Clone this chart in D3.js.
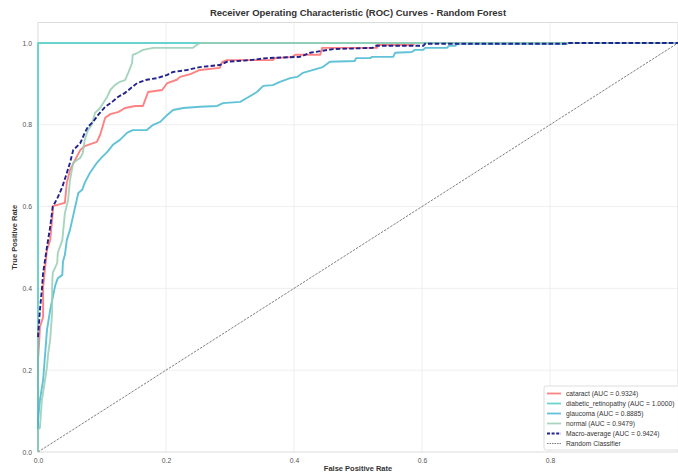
<!DOCTYPE html>
<html>
<head>
<meta charset="utf-8">
<script src="https://cdn.jsdelivr.net/npm/d3@7"></script>
<style>
  html, body { margin: 0; padding: 0; background: #fff; }
  svg { display: block; font-family: "Liberation Sans", Arial, sans-serif; }
</style>
</head>
<body>
<svg id="chart" width="678" height="472"></svg>
<script>
// ROC curve points (false positive rate, true positive rate) per class
const cataractFpr = [0, 0, 0.002, 0.003, 0.008, 0.008, 0.014, 0.019, 0.023, 0.023, 0.042, 0.045, 0.050, 0.058, 0.066, 0.073, 0.092, 0.097, 0.105, 0.113, 0.125, 0.136, 0.152, 0.164, 0.172, 0.194, 0.202, 0.217, 0.222, 0.238, 0.253, 0.284, 0.288, 0.295, 0.367, 0.370, 0.398, 0.402, 0.441, 0.444, 0.530, 0.530, 0.586, 0.589, 1];
const cataractTpr = [0, 0.225, 0.274, 0.306, 0.330, 0.403, 0.494, 0.518, 0.584, 0.601, 0.609, 0.658, 0.689, 0.714, 0.738, 0.748, 0.758, 0.775, 0.817, 0.826, 0.831, 0.841, 0.846, 0.846, 0.880, 0.885, 0.902, 0.910, 0.917, 0.924, 0.934, 0.939, 0.954, 0.958, 0.958, 0.963, 0.966, 0.971, 0.971, 0.988, 0.988, 0.995, 0.995, 1, 1];

const diabeticFpr = [0, 0, 1];
const diabeticTpr = [0, 1, 1];

const glaucomaFpr = [0, 0, 0.003, 0.008, 0.011, 0.014, 0.019, 0.027, 0.031, 0.038, 0.039, 0.042, 0.045, 0.050, 0.058, 0.063, 0.069, 0.073, 0.081, 0.092, 0.100, 0.108, 0.117, 0.128, 0.139, 0.148, 0.170, 0.180, 0.191, 0.202, 0.211, 0.227, 0.253, 0.280, 0.289, 0.316, 0.327, 0.342, 0.352, 0.367, 0.378, 0.394, 0.405, 0.414, 0.430, 0.445, 0.456, 0.495, 0.497, 0.519, 0.522, 0.555, 0.558, 0.584, 0.589, 0.602, 0.605, 0.639, 0.642, 0.652, 0.655, 0.827, 0.828, 1];
const glaucomaTpr = [0, 0.078, 0.127, 0.176, 0.237, 0.298, 0.347, 0.408, 0.425, 0.433, 0.465, 0.482, 0.518, 0.543, 0.599, 0.633, 0.641, 0.658, 0.682, 0.707, 0.721, 0.733, 0.751, 0.763, 0.780, 0.787, 0.787, 0.800, 0.807, 0.824, 0.836, 0.841, 0.844, 0.846, 0.853, 0.856, 0.866, 0.880, 0.895, 0.897, 0.905, 0.914, 0.917, 0.927, 0.934, 0.941, 0.954, 0.956, 0.963, 0.963, 0.966, 0.966, 0.976, 0.978, 0.983, 0.983, 0.988, 0.988, 0.993, 0.993, 0.998, 0.998, 1, 1];

const normalFpr = [0, 0, 0.003, 0.006, 0.011, 0.014, 0.016, 0.019, 0.022, 0.022, 0.023, 0.030, 0.031, 0.038, 0.042, 0.047, 0.050, 0.055, 0.066, 0.070, 0.073, 0.078, 0.084, 0.089, 0.097, 0.102, 0.108, 0.113, 0.120, 0.128, 0.136, 0.141, 0.147, 0.148, 0.156, 0.164, 0.180, 0.242, 0.248, 0.253, 1];
const normalTpr = [0, 0.054, 0.059, 0.127, 0.176, 0.208, 0.242, 0.274, 0.340, 0.403, 0.438, 0.462, 0.487, 0.518, 0.584, 0.616, 0.665, 0.707, 0.719, 0.731, 0.763, 0.787, 0.800, 0.829, 0.841, 0.853, 0.868, 0.885, 0.897, 0.905, 0.909, 0.927, 0.951, 0.971, 0.976, 0.983, 0.988, 0.988, 0.995, 1, 1];

const macroFpr = [0, 0.003, 0.006, 0.008, 0.011, 0.014, 0.019, 0.023, 0.031, 0.038, 0.045, 0.050, 0.055, 0.066, 0.073, 0.078, 0.086, 0.094, 0.105, 0.116, 0.125, 0.136, 0.147, 0.155, 0.170, 0.186, 0.202, 0.211, 0.233, 0.253, 0.284, 0.295, 0.331, 0.358, 0.409, 0.425, 0.441, 0.461, 0.523, 0.527, 0.602, 0.605, 0.827, 0.828, 1];
const macroTpr = [0.281, 0.347, 0.396, 0.438, 0.469, 0.501, 0.550, 0.599, 0.623, 0.648, 0.682, 0.707, 0.738, 0.755, 0.780, 0.795, 0.807, 0.824, 0.844, 0.856, 0.868, 0.878, 0.892, 0.902, 0.910, 0.914, 0.922, 0.929, 0.934, 0.941, 0.946, 0.954, 0.958, 0.963, 0.966, 0.976, 0.980, 0.985, 0.988, 0.993, 0.993, 0.998, 0.998, 1, 1];

const classNames = ["cataract", "diabetic_retinopathy", "glaucoma", "normal"];
const classAuc = ["0.9324", "1.0000", "0.8885", "0.9479"];
const macroAuc = "0.9424";
const classColors = ["#FF6B6B", "#4ECDC4", "#45B7D1", "#96CEB4"];

const tickValues = [0, 0.2, 0.4, 0.6, 0.8, 1.0];

const svg = d3.select("#chart");
const W = 678, H = 472;
const margin = { left: 38, right: 0, top: 22.5, bottom: 20 };
const plotW = W - margin.left - margin.right;
const plotH = H - margin.top - margin.bottom;

const x = d3.scaleLinear().domain([0, 1]).range([margin.left, margin.left + plotW]);
const y = d3.scaleLinear().domain([0, 1.05]).range([margin.top + plotH, margin.top]);

// grid
const grid = svg.append("g");
grid.selectAll(".gx").data(tickValues.slice(1, 5)).join("line")
  .attr("x1", d => x(d)).attr("x2", d => x(d))
  .attr("y1", y(0)).attr("y2", y(1.05))
  .attr("stroke", "#ebebeb").attr("stroke-width", 0.8);
grid.selectAll(".gy").data(tickValues.slice(1)).join("line")
  .attr("x1", x(0)).attr("x2", x(1))
  .attr("y1", d => y(d)).attr("y2", d => y(d))
  .attr("stroke", "#ebebeb").attr("stroke-width", 0.8);

// frame
svg.append("rect")
  .attr("x", x(0)).attr("y", y(1.05))
  .attr("width", x(1) - x(0)).attr("height", y(0) - y(1.05))
  .attr("fill", "none").attr("stroke", "#dcdcdc").attr("stroke-width", 1);

// axes
const xAxis = d3.axisBottom(x).tickValues(tickValues.slice(0, 5)).tickFormat(d3.format(".1f")).tickSize(0).tickPadding(6);
const yAxis = d3.axisLeft(y).tickValues(tickValues).tickFormat(d3.format(".1f")).tickSize(0).tickPadding(6);
const gx = svg.append("g").attr("transform", `translate(0,${y(0)})`).call(xAxis);
const gy = svg.append("g").attr("transform", `translate(${x(0)},0)`).call(yAxis);
[gx, gy].forEach(g => {
  g.select(".domain").remove();
  g.selectAll("text").attr("fill", "#555").attr("font-size", 6.8)
    .attr("font-family", "'Liberation Sans', Arial, sans-serif");
});

// curves
const line = d3.line().x(d => x(d[0])).y(d => y(d[1]));
const zipPts = (a, b) => a.map((v, i) => [v, b[i]]);
const classCurves = [
  zipPts(cataractFpr, cataractTpr),
  zipPts(diabeticFpr, diabeticTpr),
  zipPts(glaucomaFpr, glaucomaTpr),
  zipPts(normalFpr, normalTpr)
];

svg.append("clipPath").attr("id", "plotclip").append("rect")
  .attr("x", x(0) - 2).attr("y", y(1.05)).attr("width", x(1) - x(0) + 4).attr("height", y(0) - y(1.05) + 2);

const curves = svg.append("g").attr("clip-path", "url(#plotclip)");

// chance diagonal
curves.append("path")
  .datum([[0, 0], [1, 1]])
  .attr("d", line)
  .attr("fill", "none").attr("stroke", "#000").attr("stroke-opacity", 0.5)
  .attr("stroke-width", 1).attr("stroke-dasharray", "2.5,1.2");

classCurves.forEach((pts, i) => {
  curves.append("path")
    .datum(pts)
    .attr("d", line)
    .attr("fill", "none")
    .attr("stroke", classColors[i])
    .attr("stroke-opacity", 0.85)
    .attr("stroke-width", 1.9)
    .attr("stroke-linejoin", "round");
});

curves.append("path")
  .datum(zipPts(macroFpr, macroTpr))
  .attr("d", line)
  .attr("fill", "none").attr("stroke", "#22228f")
  .attr("stroke-width", 1.9).attr("stroke-dasharray", "4.5,2.2");

// title and axis labels
svg.append("text")
  .attr("x", x(0.5)).attr("y", 16)
  .attr("text-anchor", "middle").attr("font-size", 9.5).attr("font-weight", "bold").attr("fill", "#333")
  .text("Receiver Operating Characteristic (ROC) Curves - Random Forest");
svg.append("text")
  .attr("x", x(0.5)).attr("y", 470.5)
  .attr("text-anchor", "middle").attr("font-size", 7.5).attr("font-weight", "bold").attr("fill", "#333")
  .text("False Positive Rate");
svg.append("text")
  .attr("transform", `translate(17,${y(0.525)}) rotate(-90)`)
  .attr("text-anchor", "middle").attr("font-size", 7.5).attr("font-weight", "bold").attr("fill", "#333")
  .text("True Positive Rate");

// legend
const legendItems = classNames.map((n, i) => ({ label: `${n} (AUC = ${classAuc[i]})`, color: classColors[i], dash: null, op: 0.85 }))
  .concat([
    { label: `Macro-average (AUC = ${macroAuc})`, color: "#22228f", dash: "3,1.6", op: 1 },
    { label: "Random Classifier", color: "#808080", dash: "1.6,0.9", op: 1 }
  ]);
const lg = svg.append("g").attr("transform", "translate(544,386)");
lg.append("rect").attr("x", 0).attr("y", 0).attr("width", 140).attr("height", 64)
  .attr("rx", 2).attr("fill", "#fff").attr("fill-opacity", 0.9)
  .attr("stroke", "#d5d5d5").attr("stroke-width", 0.8);
legendItems.forEach((it, i) => {
  const yy = 7.5 + i * 10;
  lg.append("line").attr("x1", 3).attr("x2", 17).attr("y1", yy).attr("y2", yy)
    .attr("stroke", it.color).attr("stroke-opacity", it.op)
    .attr("stroke-width", it.label === "Random Classifier" ? 1 : 1.8)
    .attr("stroke-dasharray", it.dash);
  lg.append("text").attr("x", 22).attr("y", yy + 2.3)
    .attr("font-size", 6.7).attr("fill", "#333").text(it.label);
});
</script>
</body>
</html>
